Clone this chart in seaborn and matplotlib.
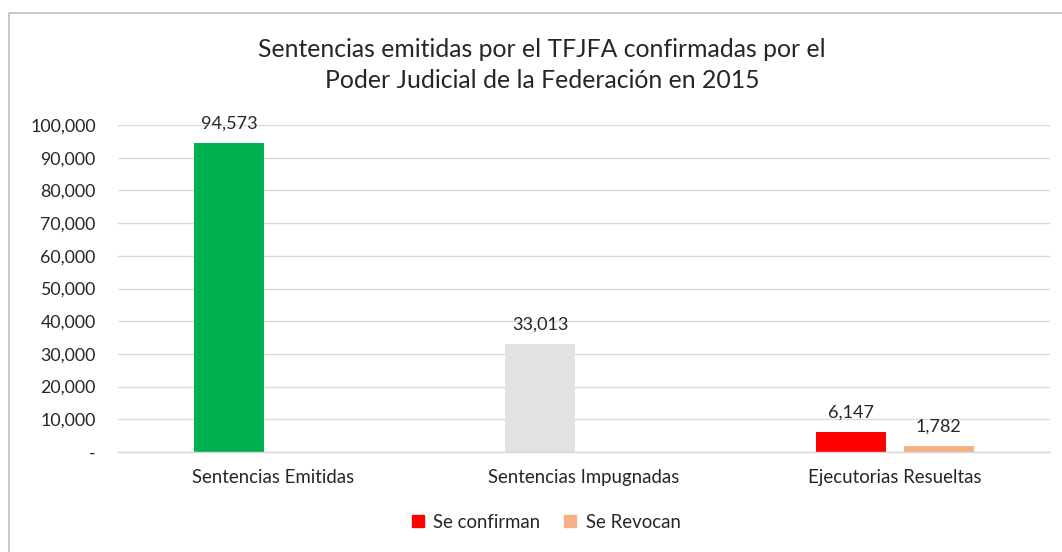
import numpy as np
import pandas as pd
import matplotlib
matplotlib.use("Agg")
import matplotlib.pyplot as plt
from matplotlib.ticker import FuncFormatter
from matplotlib.lines import Line2D
import seaborn as sns

categories = ["Sentencias Emitidas", "Sentencias Impugnadas", "Ejecutorias Resueltas"]
series_names = ["Se confirman", "Se Revocan"]
confirman = [94573, 33013, 6147]
revocan = [np.nan, np.nan, 1782]
title = "Sentencias emitidas por el TFJFA confirmadas por el\nPoder Judicial de la Federación en 2015"

df = pd.DataFrame({
    "categoria": categories * 2,
    "serie": [series_names[0]] * 3 + [series_names[1]] * 3,
    "valor": confirman + revocan,
})

sns.set_theme(style="white")
plt.rcParams["font.family"] = ["Lato", "DejaVu Sans"]

fig = plt.figure(figsize=(10.62, 5.52), dpi=100)
ax = fig.add_axes([118 / 1062, 1 - 452 / 552, (1050 - 118) / 1062, (452 - 125) / 552])

palette = {"Se confirman": "#FF0000", "Se Revocan": "#F4B183"}
sns.barplot(data=df, x="categoria", y="valor", hue="serie", order=categories,
            hue_order=series_names, palette=palette, width=0.566, gap=0.205,
            saturation=1, ax=ax, legend=True)

first_colors = ["#00B050", "#E2E2E2", "#FF0000"]
for bar, c in zip(ax.containers[0], first_colors):
    bar.set_facecolor(c)
    bar.set_edgecolor("none")
for bar in ax.containers[1]:
    bar.set_edgecolor("none")

for cont in ax.containers:
    ax.bar_label(cont, labels=[f"{v:,.0f}" if not np.isnan(v) else "" for v in cont.datavalues],
                 padding=8, fontsize=13, color="#262626")

ax.set_ylim(0, 100000)
ax.set_xlim(-0.5, 2.5)
ax.set_yticks(np.arange(0, 100001, 10000))
ax.yaxis.set_major_formatter(FuncFormatter(lambda v, p: "-" if v == 0 else f"{v:,.0f}"))
ax.grid(axis="y", color="#D9D9D9", lw=1)
ax.set_axisbelow(True)
for s in ["top", "right", "left"]:
    ax.spines[s].set_visible(False)
ax.spines["bottom"].set_color("#D9D9D9")
ax.spines["bottom"].set_linewidth(1)
ax.tick_params(axis="y", length=0, pad=16, labelsize=12.8, labelcolor="#262626")
ax.tick_params(axis="x", length=0, pad=12, labelsize=13.4, labelcolor="#262626")
ax.set_xlabel("")
ax.set_ylabel("")

handles = [plt.Rectangle((0, 0), 1, 1, color=palette[n]) for n in series_names]
ax.legend(handles, series_names, loc="center", bbox_to_anchor=(546 / 1062, 1 - 522 / 552),
          bbox_transform=fig.transFigure, ncol=2, frameon=False, fontsize=13.4,
          handlelength=0.65, handleheight=0.65, handletextpad=0.5, columnspacing=1.3,
          labelcolor="#262626")

fig.text(542 / 1062, 1 - 65 / 552, title, ha="center", va="center", fontsize=17.8,
         color="#262626", linespacing=1.45)

fig.add_artist(Line2D([9 / 1062, 9 / 1062, 1.0], [0, 1 - 13 / 552, 1 - 13 / 552],
                      transform=fig.transFigure, color="#BFBFBF", lw=1.2))

fig.savefig("out.png", dpi=100)
